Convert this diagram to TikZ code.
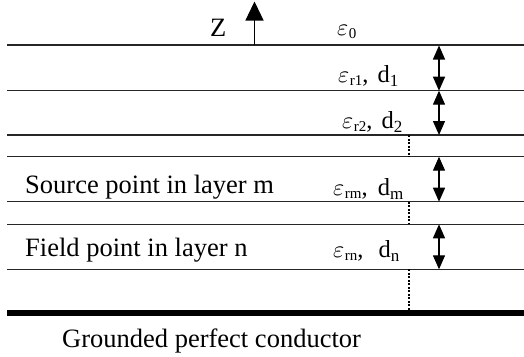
\documentclass[tikz,border=0pt]{standalone}
\usepackage{fontspec}
\setmainfont{Liberation Serif}
\usetikzlibrary{arrows.meta}
\newcommand\bigtxt{\fontsize{26.5bp}{30bp}\selectfont}
\newcommand\labtxt{\fontsize{24.5bp}{28bp}\selectfont}
\newcommand\subtxt{\fontsize{15bp}{17bp}\selectfont}
\newcommand\epsl[1]{{\fontsize{10pt}{12pt}\selectfont\scalebox{2.4}{$\varepsilon$}}\kern0.5bp\raisebox{-3bp}{\subtxt #1}}
\newcommand\dsub[1]{d\raisebox{-4bp}{\fontsize{17bp}{19bp}\selectfont #1}}
\begin{document}
\begin{tikzpicture}[x=1bp,y=-1bp,
  layer/.style={line width=1.3bp,draw=black!85},
  ground/.style={line width=6.5bp},
  gap/.style={line width=2bp,dash pattern=on 2bp off 1.5bp},
  thick arrow/.style={line width=1.3bp,{Triangle[length=14bp,width=12bp]}-{Triangle[length=14bp,width=12bp]}},
  zarrow/.style={line width=1.3bp,-{Triangle[length=19bp,width=18bp]}},
  txt/.style={inner sep=0pt,anchor=base west}]
\useasboundingbox (0,0) rectangle (524,356);
% layer interfaces
\foreach \n/\y in {l0/45,l1/90.7,l2/135,l3/156.7,l4/201.7,l5/224.3,l6/269.3}{
  \coordinate (\n a) at (7,\y);
  \coordinate (\n b) at (524,\y);
  \draw[layer] (\n a) -- (\n b);
}
\coordinate (ga) at (7,313);
\coordinate (gb) at (524,313);
\draw[ground] (ga) -- (gb);
% Z axis
\coordinate (z0) at (254.5,45);
\coordinate (z1) at (254.5,1.5);
\draw[zarrow] (z0) -- (z1);
\node[txt] (Z) at (210,36) {\bigtxt Z};
% thickness arrows
\coordinate (d0) at (439,45.5);
\coordinate (d1) at (439,90.7);
\coordinate (d2) at (439,135);
\coordinate (dm0) at (439,156.7);
\coordinate (dm1) at (439,201.7);
\coordinate (dn0) at (439,224.3);
\coordinate (dn1) at (439,269.3);
\draw[thick arrow] (d0) -- (d1);
\draw[thick arrow] (d1) -- (d2);
\draw[thick arrow] (dm0) -- (dm1);
\draw[thick arrow] (dn0) -- (dn1);
% dotted gaps
\coordinate (g1a) at (409,135);
\coordinate (g1b) at (409,156.7);
\coordinate (g2a) at (409,201.7);
\coordinate (g2b) at (409,224.3);
\coordinate (g3a) at (409,269.3);
\coordinate (g3b) at (409,310);
\draw[gap] (g1a) -- (g1b);
\draw[gap] (g2a) -- (g2b);
\draw[gap] (g3a) -- (g3b);
% labels
\node[txt] (e0) at (337,35) {\labtxt \epsl{0}};
\node[txt] (e1) at (338,82) {\labtxt \epsl{r1},\kern3bp{} \dsub{1}};
\node[txt] (e2) at (342,128) {\labtxt \epsl{r2},\kern3bp{} \dsub{2}};
\node[txt] (em) at (333,195) {\labtxt \epsl{rm},\kern4bp{} \dsub{m}};
\node[txt] (en) at (333,257) {\labtxt \epsl{rn},\kern3bp\ \ \dsub{n}};
\node[txt] (src) at (25,193) {\bigtxt Source point in layer m};
\node[txt] (fld) at (25,256) {\bigtxt Field point in layer n};
\node[txt] (gnd) at (62,347) {\bigtxt Grounded perfect conductor};
\end{tikzpicture}
\end{document}
